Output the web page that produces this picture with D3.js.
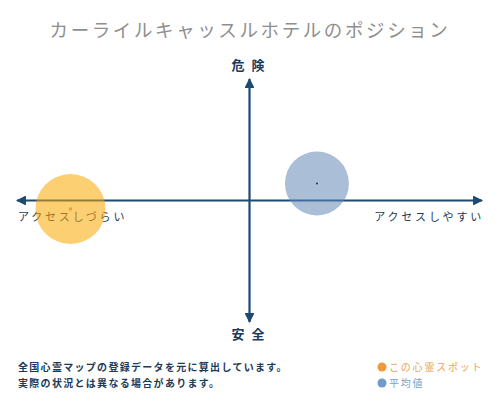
<!DOCTYPE html>
<html>
<head>
<meta charset="utf-8">
<script src="https://cdn.jsdelivr.net/npm/d3@7"></script>
<style>
  body { margin: 0; background: #fff; }
  svg text { font-family: "Noto Sans CJK JP", "Noto Sans", sans-serif; }
</style>
</head>
<body>
<svg id="chart" width="500" height="400"></svg>
<script>
// chart data
const title = 'カーライルキャッスルホテルのポジション';
const axisLabels = { top: '危険', bottom: '安全', left: 'アクセスしづらい', right: 'アクセスしやすい' };
const seriesNames = ['この心霊スポット', '平均値'];
const seriesX = [-77, 29];    // access: -100 hard .. 100 easy
const seriesY = [-7, 14];     // danger: -100 safe .. 100 dangerous
const seriesR = [35, 32];
const notes = ['全国心霊マップの登録データを元に算出しています。', '実際の状況とは異なる場合があります。'];

const svg = d3.select('#chart');
const axisColor = '#1d4a73';
const fills = ['#f9a800', '#6489b6'];
const dotColors = ['#f0a030', '#1d3550'];
const legendColors = ['#ef9a3a', '#6f9bc6'];

const x = d3.scaleLinear().domain([-100, 100]).range([17, 482]);
const y = d3.scaleLinear().domain([-100, 100]).range([322, 79]);

// arrow marker
svg.append('defs').append('marker')
    .attr('id', 'arrow')
    .attr('viewBox', '0 0 10 10')
    .attr('refX', 9).attr('refY', 5)
    .attr('markerWidth', 4.5).attr('markerHeight', 4.5)
    .attr('orient', 'auto')
  .append('path')
    .attr('d', 'M0,0 L10,5 L0,10 Z')
    .attr('fill', axisColor);

svg.append('text')
    .attr('x', 250).attr('y', 37)
    .attr('text-anchor', 'middle')
    .attr('fill', '#8f8f8f')
    .style('font-size', '18.5px')
    .style('letter-spacing', '2.6px')
    .text(title);

// axes
const axisEnds = [[-100, 0], [100, 0], [0, 100], [0, -100]];
svg.selectAll('line.axis')
    .data(axisEnds)
    .enter().append('line')
    .attr('class', 'axis')
    .attr('x1', x(0)).attr('y1', y(0))
    .attr('x2', d => x(d[0])).attr('y2', d => y(d[1]))
    .attr('stroke', axisColor).attr('stroke-width', 2.2)
    .attr('marker-end', 'url(#arrow)');

// axis labels
svg.append('text')
    .attr('x', x(0) + 2).attr('y', 70)
    .attr('text-anchor', 'middle')
    .attr('fill', '#1d3a5a')
    .style('font-size', '13px').style('font-weight', 'bold')
    .style('letter-spacing', '7px')
    .text(axisLabels.top);
svg.append('text')
    .attr('x', x(0) + 2).attr('y', 339)
    .attr('text-anchor', 'middle')
    .attr('fill', '#1d3a5a')
    .style('font-size', '13px').style('font-weight', 'bold')
    .style('letter-spacing', '7px')
    .text(axisLabels.bottom);
svg.append('text')
    .attr('x', 18).attr('y', 221)
    .attr('fill', '#1d3a5a')
    .style('font-size', '11px')
    .style('letter-spacing', '2.8px')
    .text(axisLabels.left);
svg.append('text')
    .attr('x', 484).attr('y', 221)
    .attr('text-anchor', 'end')
    .attr('fill', '#1d3a5a')
    .style('font-size', '11px')
    .style('letter-spacing', '2.8px')
    .text(axisLabels.right);

// circles, drawn over the axes
const pts = seriesNames.map((n, i) => ({ name: n, x: seriesX[i], y: seriesY[i], r: seriesR[i], i }));

svg.selectAll('circle.blob')
    .data(pts.slice().reverse())
    .enter().append('circle')
    .attr('class', 'blob')
    .attr('cx', d => x(d.x))
    .attr('cy', d => y(d.y))
    .attr('r', d => d.r)
    .attr('fill', d => fills[d.i])
    .attr('fill-opacity', 0.55);

// center dots
svg.selectAll('circle.dot')
    .data(pts)
    .enter().append('circle')
    .attr('class', 'dot')
    .attr('cx', d => x(d.x))
    .attr('cy', d => y(d.y))
    .attr('r', d => d.i === 0 ? 1.8 : 1)
    .attr('fill', d => dotColors[d.i]);

// notes
svg.selectAll('text.note')
    .data(notes)
    .enter().append('text')
    .attr('class', 'note')
    .attr('x', 18)
    .attr('y', (d, i) => 371 + i * 16)
    .attr('fill', '#1d3a5a')
    .style('font-size', '10px').style('font-weight', 'bold')
    .style('letter-spacing', '1.3px')
    .text(d => d);

// legend
const legend = svg.selectAll('g.legend')
    .data(seriesNames)
    .enter().append('g')
    .attr('class', 'legend')
    .attr('transform', (d, i) => `translate(382, ${367 + i * 16})`);
legend.append('circle')
    .attr('r', 4.5)
    .attr('fill', (d, i) => legendColors[i]);
legend.append('text')
    .attr('x', 7).attr('y', 4)
    .attr('fill', (d, i) => i === 0 ? '#e9a454' : '#7f9fc0')
    .style('font-size', '10px')
    .style('letter-spacing', '1.8px')
    .text(d => d);
</script>
</body>
</html>
